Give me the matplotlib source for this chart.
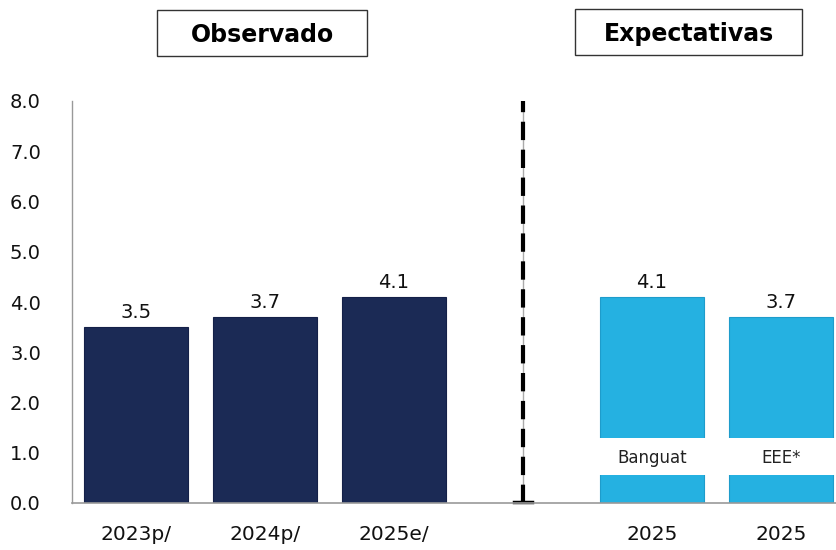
import numpy as np
import matplotlib
matplotlib.use("Agg")
import matplotlib.pyplot as plt
from matplotlib.patches import Rectangle

plt.rcParams['font.family'] = ['DejaVu Sans']

# datos
obs_labels = ["2023p/", "2024p/", "2025e/"]
obs_values = [3.5, 3.7, 4.1]
exp_labels = ["2025", "2025"]
exp_values = [4.1, 3.7]
exp_sources = ["Banguat", "EEE*"]
y_ticks = [0, 1, 2, 3, 4, 5, 6, 7, 8]

navy = "#1B2A55"
blue = "#25B1E1"

fig = plt.figure(figsize=(8.36, 5.5), dpi=100)
ax = fig.add_axes([71.5 / 836, 1 - 503 / 550, (836 - 71.5) / 836, (503 - 101) / 550])

x_obs = np.arange(len(obs_values))
x_sep = len(obs_values)
x_exp = np.arange(len(exp_values)) + x_sep + 1
w = 0.8

ax.bar(x_obs, obs_values, width=w, color=navy, edgecolor="#142048", linewidth=0.8)
ax.bar(x_exp, exp_values, width=w, color=blue, edgecolor="#1E9CCB", linewidth=0.8)

# banda blanca con la fuente de la expectativa
for xi, src in zip(x_exp, exp_sources):
    ax.add_patch(Rectangle((xi - w / 2 - 0.02, 0.55), w + 0.04, 0.75,
                           facecolor="white", edgecolor="none", zorder=3))
    ax.text(xi, 0.9, src, ha="center", va="center", fontsize=12, color="#222222", zorder=4)

# etiquetas de valor
for xi, v in list(zip(x_obs, obs_values)) + list(zip(x_exp, exp_values)):
    ax.text(xi, v + 0.1, f"{v:.1f}", ha="center", va="bottom", fontsize=14, color="#111111")

# línea divisoria
ax.axvline(x_sep, color="#AAAAAA", linewidth=1, zorder=1)
ax.plot([x_sep, x_sep], [0, 8], color="black", linewidth=3, linestyle=(0, (4.4, 2.3)), zorder=2)
ax.plot([x_sep - 0.07, x_sep + 0.07], [0.02, 0.02], color="black", linewidth=2.5, zorder=2,
        clip_on=False)

ax.set_ylim(0, 8)
ax.set_xlim(-0.5, 5.5 - 9.5 / 129)
ax.set_yticks(y_ticks)
ax.set_yticklabels([f"{t:.1f}" for t in y_ticks], fontsize=14, color="#111111")
ax.set_xticks(list(x_obs) + list(x_exp))
ax.set_xticklabels(obs_labels + exp_labels, fontsize=14.5, color="#111111")
ax.tick_params(axis="both", length=0)
ax.tick_params(axis="y", pad=22)
ax.tick_params(axis="x", pad=16)

for s in ["top", "right"]:
    ax.spines[s].set_visible(False)
ax.spines["left"].set_color("#999999")
ax.spines["bottom"].set_color("#999999")
ax.spines["left"].set_linewidth(1)
ax.spines["bottom"].set_linewidth(1.2)

# cajas de titulo
for (x0, x1, y0, y1, txt) in [(157, 367, 10, 56, "Observado"), (575, 802, 9, 55, "Expectativas")]:
    fig.patches.append(Rectangle((x0 / 836, 1 - y1 / 550), (x1 - x0) / 836, (y1 - y0) / 550,
                                 transform=fig.transFigure, facecolor="white",
                                 edgecolor="#333333", linewidth=1))
    fig.text((x0 + x1) / 2 / 836, 1 - (y0 + y1) / 2 / 550 - 0.004, txt, ha="center", va="center",
             fontsize=17, fontweight="bold", color="black")

fig.savefig("out.png", dpi=100)
